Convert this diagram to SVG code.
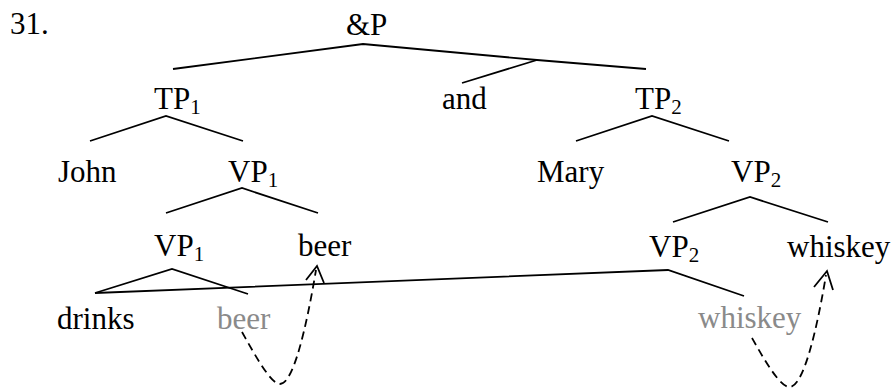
<svg xmlns="http://www.w3.org/2000/svg" width="892" height="388" viewBox="0 0 892 388">
<style>
text{font-family:"Liberation Serif","Times New Roman",serif;font-size:31px;fill:#000}
.g{fill:#8a8a8a}
.sub{font-size:21px}
.br{fill:none;stroke:#000;stroke-width:1.8;stroke-linejoin:miter}
.mv{fill:none;stroke:#000;stroke-width:1.8;stroke-dasharray:8 5}
.ah{fill:none;stroke:#000;stroke-width:1.8}
</style>
<rect width="892" height="388" fill="#fff"/>
<text id="num" x="10" y="34">31.</text>
<g id="andP"><text x="346" y="35">&amp;P</text></g>
<g id="TP1"><text x="154" y="109">TP<tspan class="sub" dy="5">1</tspan></text></g>
<g id="and"><text x="442" y="109">and</text></g>
<g id="TP2"><text x="635" y="109">TP<tspan class="sub" dy="5">2</tspan></text></g>
<g id="John"><text x="58" y="182">John</text></g>
<g id="VP1a"><text x="228" y="182">VP<tspan class="sub" dy="5">1</tspan></text></g>
<g id="Mary"><text x="537" y="182">Mary</text></g>
<g id="VP2a"><text x="731" y="182">VP<tspan class="sub" dy="5">2</tspan></text></g>
<g id="VP1b"><text x="154" y="256">VP<tspan class="sub" dy="5">1</tspan></text></g>
<g id="beer"><text x="298" y="256">beer</text></g>
<g id="VP2b"><text x="649" y="257">VP<tspan class="sub" dy="5">2</tspan></text></g>
<g id="whiskey"><text x="787" y="257">whiskey</text></g>
<g id="drinks"><text x="57" y="329">drinks</text></g>
<g id="beerTrace"><text class="g" x="217" y="329">beer</text></g>
<g id="whiskeyTrace"><text class="g" x="698" y="328">whiskey</text></g>
<g id="connectors">
<polyline class="br" points="173,69 363,44 537,60 646,69"/>
<line class="br" x1="537" y1="60" x2="462" y2="83"/>
<polyline class="br" points="90,141 166,116 243,141"/>
<polyline class="br" points="576,141 652,116 729,141"/>
<polyline class="br" points="166,213 242,188 318,213"/>
<polyline class="br" points="673,222 750,197 828,222"/>
<polyline class="br" points="95,293 172,269 248,294"/>
<polyline class="br" points="95,293 668,270 744,296"/>
<path class="mv" d="M242,332 C256,357 271,384 280,384 C293,384 306,330 316,270"/>
<polyline class="ah" points="306,280 317,266 324,283"/>
<path class="mv" d="M752,338 C766,363 781,388 790,387 C803,386 816,335 826,275"/>
<polyline class="ah" points="814,287 827,271 833,290"/>
</g>
</svg>
